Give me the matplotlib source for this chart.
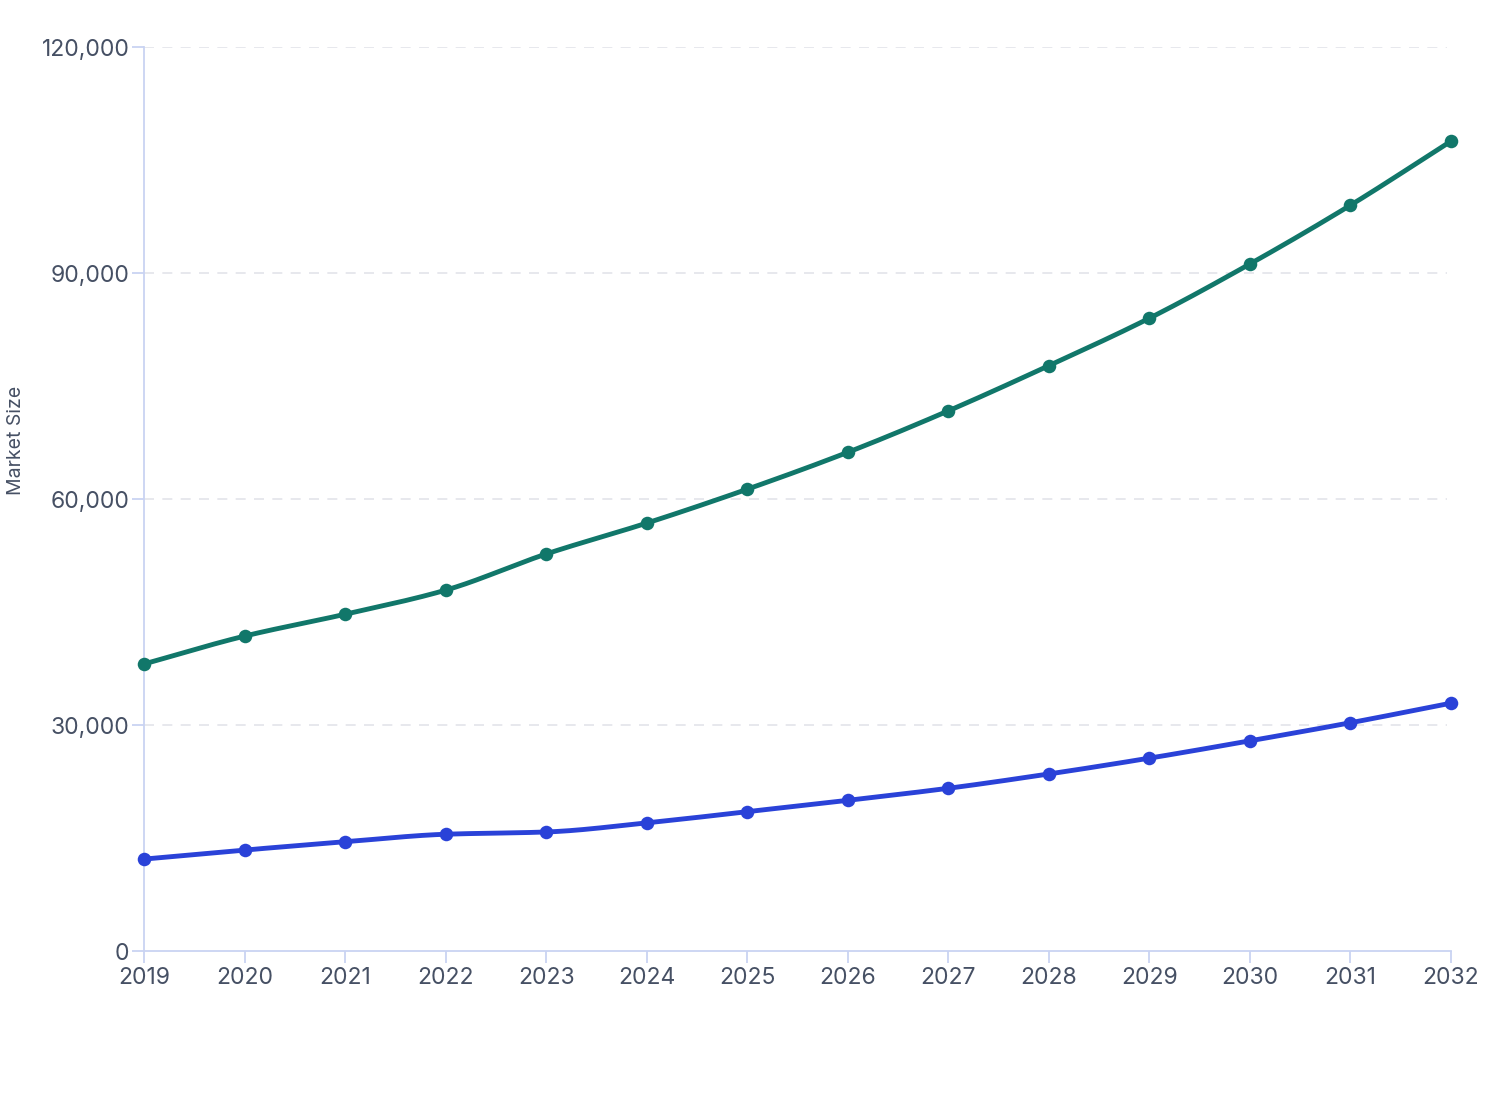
import numpy as np
import matplotlib
matplotlib.use("Agg")
import matplotlib.pyplot as plt

years = [2019, 2020, 2021, 2022, 2023, 2024, 2025, 2026, 2027, 2028, 2029, 2030, 2031, 2032]
series_green = [38100, 41800, 44700, 47900, 52700, 56800, 61300, 66200, 71700, 77700, 84000, 91200, 99000, 107500]
series_blue = [12200, 13400, 14500, 15500, 15800, 17000, 18500, 20000, 21600, 23500, 25600, 27900, 30300, 32900]
y_ticks = [0, 30000, 60000, 90000, 120000]
y_label = "Market Size"

GREEN = "#11776a"
BLUE = "#2a42d8"
AXIS = "#c9d3f2"
TEXT = "#465064"
GRID = "#e3e4ea"

plt.rcParams['font.family'] = ['Inter', 'DejaVu Sans']


def monotone(x, y, n=30):
    x = np.asarray(x, float); y = np.asarray(y, float)
    h = np.diff(x); d = np.diff(y) / h
    m = np.zeros_like(y)
    m[0] = d[0]; m[-1] = d[-1]
    for i in range(1, len(y) - 1):
        if d[i - 1] * d[i] <= 0:
            m[i] = 0
        else:
            w1 = 2 * h[i] + h[i - 1]; w2 = h[i] + 2 * h[i - 1]
            m[i] = (w1 + w2) / (w1 / d[i - 1] + w2 / d[i])
    xs, ys = [], []
    for i in range(len(x) - 1):
        t = np.linspace(0, 1, n, endpoint=(i == len(x) - 2))
        h00 = 2 * t**3 - 3 * t**2 + 1; h10 = t**3 - 2 * t**2 + t
        h01 = -2 * t**3 + 3 * t**2; h11 = t**3 - t**2
        xs.append(x[i] + t * h[i])
        ys.append(h00 * y[i] + h10 * h[i] * m[i] + h01 * y[i + 1] + h11 * h[i] * m[i + 1])
    return np.concatenate(xs), np.concatenate(ys)


fig = plt.figure(figsize=(15.08, 11.2), dpi=100)
ax = fig.add_axes([144 / 1508, 1 - 951 / 1120, (1451 - 144) / 1508, (951 - 47) / 1120])

for s, c in [(series_green, GREEN), (series_blue, BLUE)]:
    xs, ys = monotone(years, s)
    ax.plot(xs, ys, color=c, lw=3.5, solid_capstyle='round', zorder=3, clip_on=False)
    ax.scatter(years, s, s=95, color=c, zorder=4, clip_on=False, linewidths=0)

ax.set_xlim(years[0], years[-1])
ax.set_ylim(0, 120000)
ax.set_yticks(y_ticks)
ax.set_yticklabels([f"{v:,}" for v in y_ticks])
ax.set_xticks(years)
ax.set_xticklabels([str(y) for y in years])

for v in y_ticks[1:]:
    ax.axhline(v, xmin=0, xmax=(1447 - 144) / (1451 - 144), color=GRID, lw=1.2,
               dashes=(6, 5), zorder=1)

for sp in ['top', 'right']:
    ax.spines[sp].set_visible(False)
for sp in ['left', 'bottom']:
    ax.spines[sp].set_color(AXIS)
    ax.spines[sp].set_linewidth(1.3)

ax.tick_params(axis='both', colors=AXIS, width=1.3, length=8.5, labelcolor=TEXT, labelsize=16.5)
ax.tick_params(axis='x', pad=3)
ax.tick_params(axis='y', pad=2)

fig.text(16 / 1508, 1 - 440 / 1120, y_label, rotation=90, color=TEXT, fontsize=14,
         ha='center', va='center')

fig.savefig("out.png", dpi=100, facecolor="white")
